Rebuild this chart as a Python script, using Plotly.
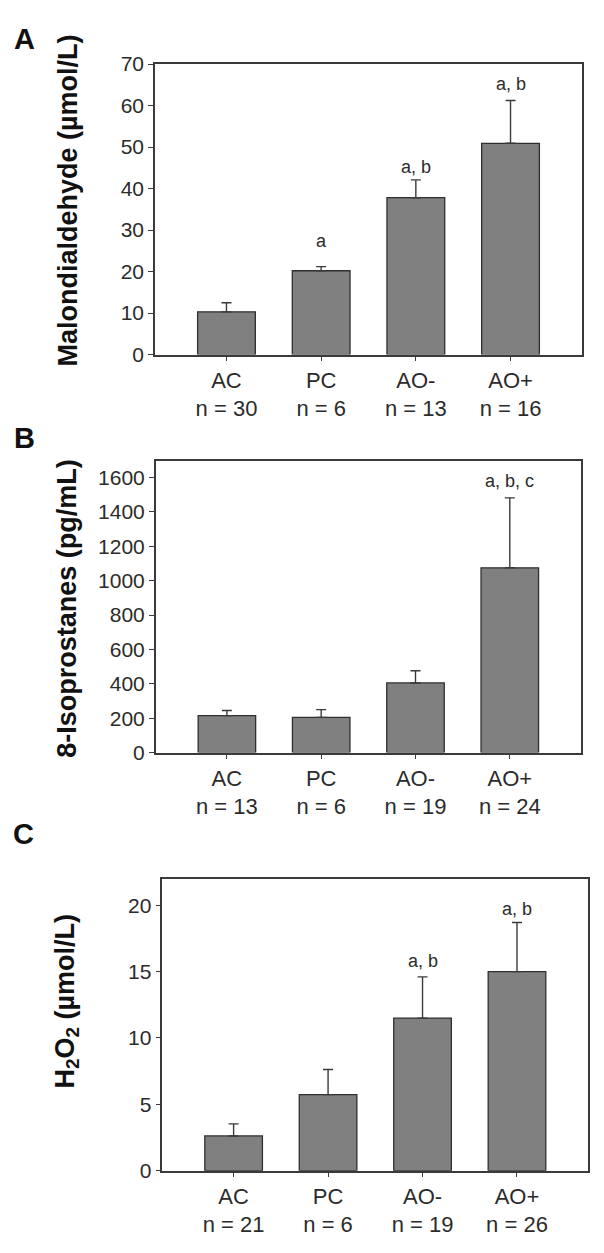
import plotly.graph_objects as go

W, H = 604, 1253

groups = ["AC", "PC", "AO-", "AO+"]

# Panel A: Malondialdehyde
mda_n = [30, 6, 13, 16]
mda_mean = [10.3, 20.2, 37.8, 50.9]
mda_upper = [12.5, 21.2, 42.1, 61.2]
mda_sig = ["", "a", "a, b", "a, b"]
mda_sig_y = [0, 27.4, 45.1, 65.3]

# Panel B: 8-Isoprostanes
iso_n = [13, 6, 19, 24]
iso_mean = [215, 205, 405, 1075]
iso_upper = [245, 250, 476, 1482]
iso_sig = ["", "", "", "a, b, c"]
iso_sig_y = [0, 0, 0, 1579]

# Panel C: H2O2
h2o2_n = [21, 6, 19, 26]
h2o2_mean = [2.62, 5.73, 11.5, 15.0]
h2o2_upper = [3.53, 7.63, 14.6, 18.7]
h2o2_sig = ["", "", "a, b", "a, b"]
h2o2_sig_y = [0, 0, 15.8, 19.75]

FONT = "Liberation Sans, Arial, Helvetica, sans-serif"
AX = "#3a3a3a"
TXT = "#2b2b2b"

panels = [
    dict(mean=mda_mean, upper=mda_upper, n=mda_n, sig=mda_sig, sig_y=mda_sig_y,
         box=(155, 582, 53, 349), yrange=[0, 70], dtick=10,
         title="Malondialdehyde (µmol/L)", title_pos=(68, 192),
         letter="A", letter_pos=(24, 28)),
    dict(mean=iso_mean, upper=iso_upper, n=iso_n, sig=iso_sig, sig_y=iso_sig_y,
         box=(155.7, 581, 457.3, 754.4), yrange=[0, 1697], dtick=200,
         title="8-Isoprostanes (pg/mL)", title_pos=(67, 608),
         letter="B", letter_pos=(24, 434)),
    dict(mean=h2o2_mean, upper=h2o2_upper, n=h2o2_n, sig=h2o2_sig, sig_y=h2o2_sig_y,
         box=(162.3, 588.3, 883.3, 1180.4), yrange=[0, 21.97], dtick=5,
         title="H<sub>2</sub>O<sub>2</sub> (µmol/L)", title_pos=(67, 1008),
         letter="C", letter_pos=(23, 837)),
]

fig = go.Figure()
annotations = []
layout_axes = {}

for i, p in enumerate(panels, start=1):
    xa = "x" if i == 1 else f"x{i}"
    ya = "y" if i == 1 else f"y{i}"
    xkey = "xaxis" if i == 1 else f"xaxis{i}"
    ykey = "yaxis" if i == 1 else f"yaxis{i}"
    err_plus = [u - m for u, m in zip(p["upper"], p["mean"])]
    fig.add_trace(go.Bar(
        x=list(range(len(groups))), y=p["mean"], xaxis=xa, yaxis=ya,
        width=0.61,
        marker=dict(color="#808080", line=dict(color="#2f2f2f", width=1.3)),
        error_y=dict(type="data", symmetric=False, array=err_plus,
                     arrayminus=[0] * len(groups), color=AX, thickness=1.4, width=5),
        showlegend=False, hoverinfo="skip",
    ))
    x0, x1, y0, y1 = p["box"]
    layout_axes[xkey] = dict(
        domain=[x0 / W, x1 / W], anchor=ya, range=[-0.755, 3.755],
        tickmode="array", tickvals=list(range(len(groups))),
        ticktext=[f"{g}<br>n = {n}" for g, n in zip(groups, p["n"])],
        ticks="outside", ticklen=5, tickwidth=1.3, tickcolor=AX,
        showline=True, linecolor=AX, linewidth=1.5, mirror=True,
        showgrid=False, zeroline=False,
        tickfont=dict(family=FONT, size=22, color=TXT),
        fixedrange=True,
    )
    layout_axes[ykey] = dict(
        domain=[1 - y1 / H, 1 - y0 / H], anchor=xa, range=p["yrange"],
        dtick=p["dtick"], tick0=0,
        ticks="outside", ticklen=5, tickwidth=1.3, tickcolor=AX,
        showline=True, linecolor=AX, linewidth=1.5, mirror=True,
        showgrid=False, zeroline=False,
        tickfont=dict(family=FONT, size=21, color=TXT),
        fixedrange=True,
    )
    for k, (s, sy) in enumerate(zip(p["sig"], p["sig_y"])):
        if s:
            annotations.append(dict(
                x=k, y=sy, xref=xa, yref=ya, text=s, showarrow=False,
                xanchor="center", yanchor="middle",
                font=dict(family=FONT, size=18, color=TXT)))
    tx, ty = p["title_pos"]
    annotations.append(dict(
        x=tx / W, y=1 - ty / H, xref="paper", yref="paper", text=p["title"],
        textangle=-90, showarrow=False, xanchor="center", yanchor="middle",
        font=dict(family=FONT, size=27, color="#111111", weight="bold")))
    lx, ly = p["letter_pos"]
    annotations.append(dict(
        x=lx / W, y=1 - ly / H, xref="paper", yref="paper", text=f"<b>{p['letter']}</b>",
        showarrow=False, xanchor="center", yanchor="middle",
        font=dict(family=FONT, size=29, color="#111111")))

fig.update_layout(
    width=W, height=H,
    margin=dict(l=0, r=0, t=0, b=0),
    paper_bgcolor="white", plot_bgcolor="white",
    annotations=annotations,
    bargap=0.39,
    **layout_axes,
)

fig.write_html(
    "out.html",
    config={"displayModeBar": False},
    post_script="document.body.style.margin='0';document.body.style.padding='0';"
                "document.documentElement.style.overflow='hidden';",
)
